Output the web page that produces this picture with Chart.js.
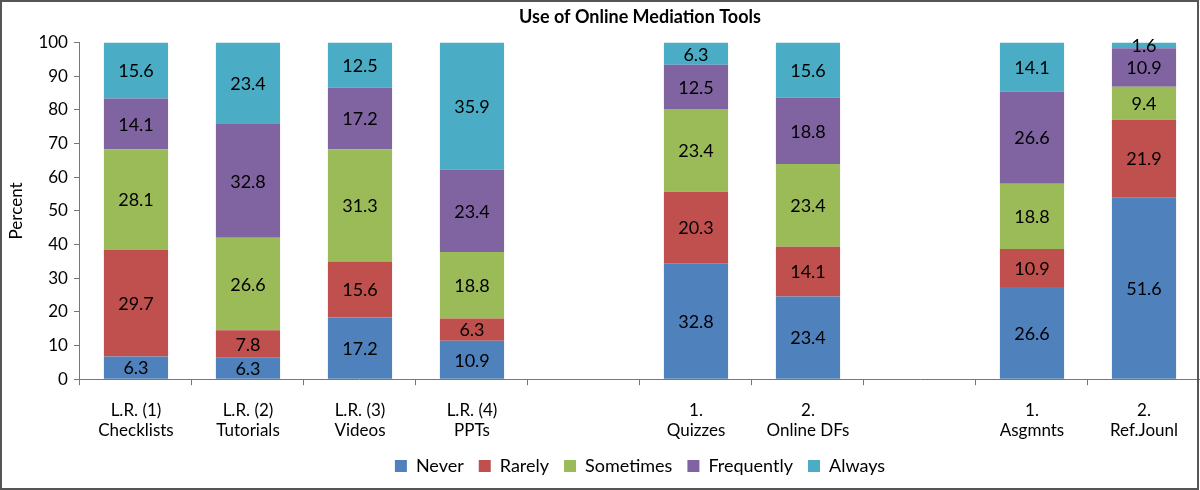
<!DOCTYPE html>
<html>
<head>
<meta charset="utf-8">
<title>Use of Online Mediation Tools</title>
<script src="https://cdn.jsdelivr.net/npm/chart.js@4/dist/chart.umd.min.js"></script>
<style>
  html, body { margin: 0; padding: 0; background: #fff; }
  canvas { display: block; }
</style>
</head>
<body>
<canvas id="myChart" width="1200" height="490"></canvas>
<script>
// categories (empty slots are the gaps between the groups)
const categories = [
  ['L.R. (1)', 'Checklists'],
  ['L.R. (2)', 'Tutorials'],
  ['L.R. (3)', 'Videos'],
  ['L.R. (4)', 'PPTs'],
  '',
  ['1.', 'Quizzes'],
  ['2.', 'Online DFs'],
  '',
  ['1.', 'Asgmnts'],
  ['2.', 'Ref.Jounl']
]

// raw percentages as printed on the bars
const never      = [6.3, 6.3, 17.2, 10.9, null, 32.8, 23.4, null, 26.6, 51.6]
const rarely     = [29.7, 7.8, 15.6, 6.3, null, 20.3, 14.1, null, 10.9, 21.9]
const sometimes  = [28.1, 26.6, 31.3, 18.8, null, 23.4, 23.4, null, 18.8, 9.4]
const frequently = [14.1, 32.8, 17.2, 23.4, null, 12.5, 18.8, null, 26.6, 10.9]
const always     = [15.6, 23.4, 12.5, 35.9, null, 6.3, 15.6, null, 14.1, 1.6]

const seriesNames = ['Never', 'Rarely', 'Sometimes', 'Frequently', 'Always']
const seriesValues = [never, rarely, sometimes, frequently, always]
const seriesColors = ['#4F81BD', '#C0504D', '#9BBB59', '#8064A2', '#4BACC6']

const yTicks = [0, 10, 20, 30, 40, 50, 60, 70, 80, 90, 100]

const FONT = 'Lato, "Open Sans", sans-serif'

// the bars are drawn as a 100% stack, labels keep the raw values
function totals() {
  return categories.map(function(c, i) {
    let sum = 0
    seriesValues.forEach(function(s) { if (s[i] != null) sum += s[i] })
    return sum
  })
}
const sums = totals()

const datasets = seriesNames.map(function(name, k) {
  return {
    label: name,
    raw: seriesValues[k],
    data: seriesValues[k].map(function(v, i) {
      return v == null ? null : v / sums[i] * 100
    }),
    backgroundColor: seriesColors[k],
    borderWidth: 0,
    categoryPercentage: 1,
    barPercentage: 0.573
  }
})

const segmentLabels = {
  id: 'segmentLabels',
  afterDatasetsDraw(chart) {
    const ctx = chart.ctx
    ctx.save()
    ctx.font = '18px ' + FONT
    ctx.fillStyle = '#000'
    ctx.textAlign = 'center'
    ctx.textBaseline = 'middle'
    chart.data.datasets.forEach(function(ds, k) {
      const meta = chart.getDatasetMeta(k)
      meta.data.forEach(function(bar, i) {
        const v = ds.raw[i]
        if (v == null) return
        const p = bar.getProps(['x', 'y', 'base'], true)
        ctx.fillText(v.toFixed(1), p.x, (p.y + p.base) / 2 + 1)
      })
    })
    ctx.restore()
  }
}

const frame = {
  id: 'frame',
  beforeDraw(chart) {
    const ctx = chart.ctx
    ctx.save()
    ctx.fillStyle = '#fff'
    ctx.fillRect(0, 0, chart.width, chart.height)
    ctx.restore()
  },
  afterDraw(chart) {
    const ctx = chart.ctx
    ctx.save()
    ctx.strokeStyle = '#555'
    ctx.lineWidth = 2
    ctx.strokeRect(1, 1, chart.width - 3, chart.height - 2)
    ctx.restore()
  }
}

const ctx = document.getElementById('myChart')
new Chart(ctx, {
  type: 'bar',
  data: { labels: categories, datasets: datasets },
  options: {
    responsive: false,
    animation: false,
    devicePixelRatio: 1,
    layout: { padding: { left: 6, right: 0, top: 6, bottom: 5 } },
    scales: {
      x: {
        stacked: true,
        grid: { drawOnChartArea: false, tickLength: 6, color: '#777', offset: true },
        border: { color: '#777', width: 1 },
        ticks: { color: '#000', font: { family: FONT, size: 17 }, padding: 15, maxRotation: 0, autoSkip: false },
        // the axis reserves the tick padding below the labels too; take it back
        afterFit(axis) { axis.height -= 14 }
      },
      y: {
        stacked: true,
        min: 0,
        max: 100,
        afterBuildTicks(axis) { axis.ticks = yTicks.map(function(v) { return { value: v } }) },
        grid: { drawOnChartArea: false, tickLength: 6, color: '#777' },
        border: { color: '#777', width: 1 },
        ticks: { color: '#000', font: { family: FONT, size: 17 }, padding: 6 },
        title: { display: true, text: 'Percent', color: '#000', font: { family: FONT, size: 17 }, padding: { top: 0, bottom: 6 } }
      }
    },
    plugins: {
      title: {
        display: true,
        text: 'Use of Online Mediation Tools',
        fullSize: false,
        color: '#000',
        font: { family: FONT, size: 18, weight: 'bold' },
        padding: { top: 0, bottom: 15 }
      },
      legend: {
        position: 'bottom',
        fullSize: false,
        labels: { color: '#000', font: { family: FONT, size: 18 }, boxWidth: 12, boxHeight: 12, padding: 15 }
      },
      tooltip: { enabled: false }
    }
  },
  plugins: [segmentLabels, frame]
})
</script>
</body>
</html>
